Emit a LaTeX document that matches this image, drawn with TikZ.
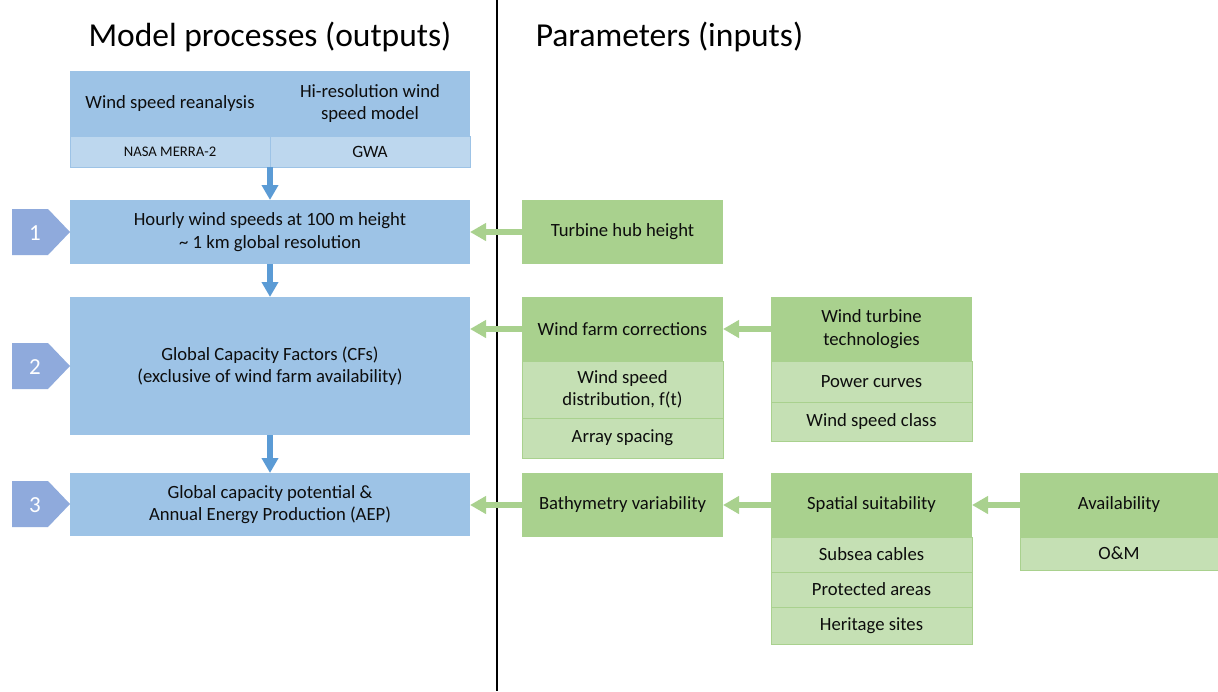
\documentclass[tikz,border=0pt]{standalone}
\usepackage{fontspec}
\setmainfont{Carlito}
\usetikzlibrary{arrows.meta}
\definecolor{bdark}{HTML}{9DC3E6}
\definecolor{blight}{HTML}{BDD7EE}
\definecolor{barrowc}{HTML}{5B9BD5}
\definecolor{chevc}{HTML}{8FAADC}
\definecolor{gdark}{HTML}{A9D18E}
\definecolor{glight}{HTML}{C5E0B4}
\definecolor{txt}{HTML}{0D0D0D}
\newcommand{\bodyfont}{\fontsize{18.67}{22.5}\selectfont}
\begin{document}
\begin{tikzpicture}[x=1pt,y=-1pt,
  cell/.style={rectangle, inner sep=0pt, outer sep=0pt, align=center, text=txt, font=\bodyfont},
  bluebox/.style={cell, fill=bdark},
  bluesub/.style={cell, fill=blight, draw=bdark, line width=0.8pt},
  greenbox/.style={cell, fill=gdark},
  greensub/.style={cell, fill=glight, draw=gdark, line width=0.8pt},
  plaintext/.style={inner sep=0pt, align=center, text=txt, font=\bodyfont},
  titletext/.style={inner sep=0pt, text=black, font=\fontsize{33.5}{38}\selectfont},
  numtext/.style={inner sep=0pt, text=white, font=\fontsize{23}{26}\selectfont},
  chev/.style={fill=chevc},
  barrow/.style={draw=barrowc, line width=6pt, -{Triangle[width=16pt,length=15pt]}},
  garrow/.style={draw=gdark, line width=6pt, -{Triangle[width=17pt,length=16pt]}},
  divider/.style={draw=black, line width=1.6pt}
]
\useasboundingbox (0,0) rectangle (1218,691);
\fill[white] (0,0) rectangle (1218,691);

% divider and titles
\coordinate (lt) at (497,0);
\coordinate (lb) at (497,691);
\draw[divider] (lt) -- (lb);
\node[titletext] (t1) at (270,37) {Model processes (outputs)};
\node[titletext] (t2) at (669.5,37) {Parameters (inputs)};

% top source box
\node[bluebox, minimum width=400pt, minimum height=96pt] (src) at (270,119) {};
\node[plaintext] (wsr) at (170,104) {Wind speed reanalysis};
\node[plaintext] (hires) at (370,103.5) {Hi-resolution wind\\speed model};
\node[bluesub, minimum width=200pt, minimum height=31pt, font=\fontsize{14.67}{16}\selectfont] (merra) at (170,151.5) {NASA MERRA-2};
\node[bluesub, minimum width=200pt, minimum height=31pt, font=\fontsize{17.3}{19}\selectfont] (gwa) at (370,151.5) {GWA};

% model process boxes
\node[bluebox, minimum width=400pt, minimum height=64pt] (b1) at (270,232) {Hourly wind speeds at 100 m height\\\textasciitilde{} 1 km global resolution};
\node[bluebox, minimum width=400pt, minimum height=138pt] (b2) at (270,366) {Global Capacity Factors (CFs)\\(exclusive of wind farm availability)};
\node[bluebox, minimum width=400pt, minimum height=63pt] (b3) at (270,504.5) {Global capacity potential \&\\Annual Energy Production (AEP)};

% chevrons
\fill[chev] (12,209) -- (48,209) -- (70,232) -- (48,255) -- (12,255) -- cycle;
\node[numtext] (n1) at (35,233) {1};
\fill[chev] (12,343) -- (48,343) -- (70,366) -- (48,389) -- (12,389) -- cycle;
\node[numtext] (n2) at (35,367) {2};
\fill[chev] (12,481) -- (48,481) -- (70,504) -- (48,527) -- (12,527) -- cycle;
\node[numtext] (n3) at (35,505) {3};

% blue arrows
\draw[barrow] (src.south) -- (b1.north);
\draw[barrow] (b1.south) -- (b2.north);
\draw[barrow] (b2.south) -- (b3.north);

% parameter boxes
\node[greenbox, minimum width=201pt, minimum height=64pt] (hub) at (622.5,232) {Turbine hub height};

\node[greenbox, minimum width=201pt, minimum height=64pt] (wfc) at (622.5,329) {Wind farm corrections};
\node[greensub, minimum width=201pt, minimum height=57pt] (wsd) at (622.5,389.5) {Wind speed\\distribution, f(t)};
\node[greensub, minimum width=201pt, minimum height=40pt] (arr) at (622.5,438) {Array spacing};

\node[greenbox, minimum width=201pt, minimum height=64pt] (wtt) at (871.5,329) {Wind turbine\\technologies};
\node[greensub, minimum width=201pt, minimum height=41pt] (pc) at (871.5,381.5) {Power curves};
\node[greensub, minimum width=201pt, minimum height=39pt] (wsc) at (871.5,421.5) {Wind speed class};

\node[greenbox, minimum width=201pt, minimum height=64pt] (bathy) at (622.5,505) {Bathymetry variability};

\node[greenbox, minimum width=201pt, minimum height=64pt] (spat) at (871.5,505) {Spatial suitability};
\node[greensub, minimum width=201pt, minimum height=35pt] (sub) at (871.5,554.5) {Subsea cables};
\node[greensub, minimum width=201pt, minimum height=35pt] (prot) at (871.5,589.5) {Protected areas};
\node[greensub, minimum width=201pt, minimum height=37pt] (her) at (871.5,625.5) {Heritage sites};

\node[greenbox, minimum width=198pt, minimum height=64pt] (avail) at (1119,505) {Availability};
\node[greensub, minimum width=198pt, minimum height=33pt] (om) at (1119,553.5) {O\&M};

% green arrows
\draw[garrow] (hub.west) -- (hub.west -| b1.east);
\draw[garrow] (wfc.west) -- (wfc.west -| b2.east);
\draw[garrow] (wtt.west) -- (wfc.east);
\draw[garrow] (bathy.west) -- (bathy.west -| b3.east);
\draw[garrow] (spat.west) -- (bathy.east);
\draw[garrow] (avail.west) -- (spat.east);
\end{tikzpicture}
\end{document}
